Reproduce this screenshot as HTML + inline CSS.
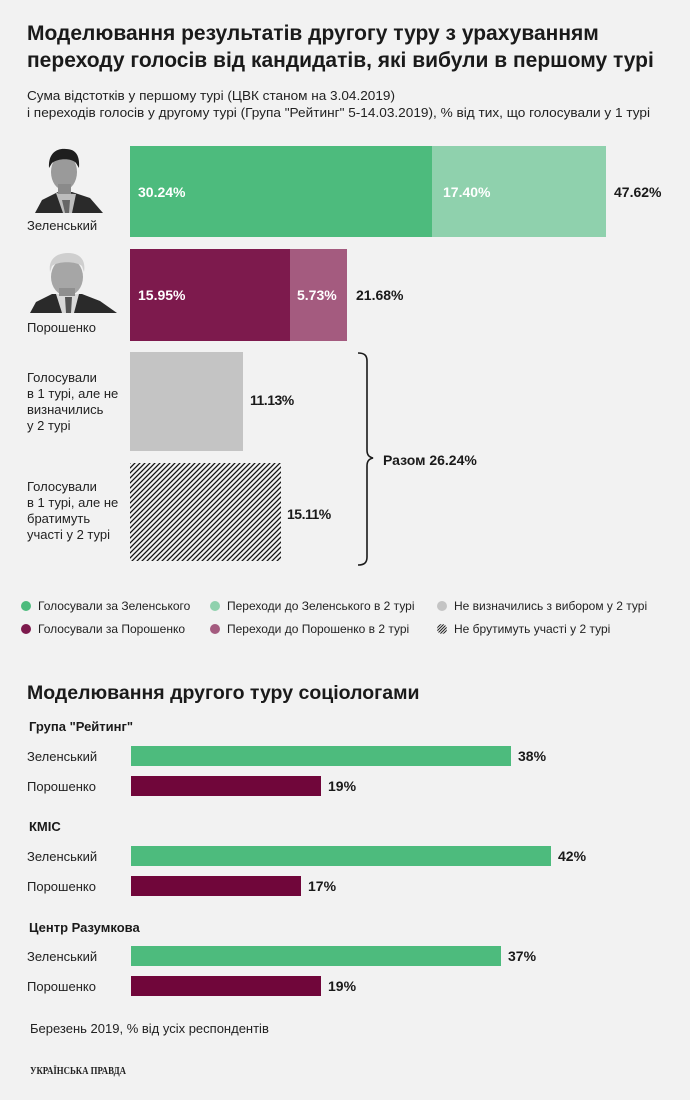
<!DOCTYPE html>
<html><head><meta charset="utf-8">
<style>
html,body{margin:0;padding:0;background:#f2f2f2;}
svg{display:block;}
text{font-family:"Liberation Sans","DejaVu Sans",sans-serif;}
</style></head>
<body>
<svg width="690" height="1100" viewBox="0 0 690 1100" xmlns="http://www.w3.org/2000/svg">
<defs>
<pattern id="hatch" patternUnits="userSpaceOnUse" width="5" height="5" patternTransform="translate(130,463)">
<rect width="5" height="5" fill="#f2f2f2"/>
<path d="M-1,1 l2,-2 M0,5 l5,-5 M4,6 l2,-2" stroke="#111" stroke-width="1.3"/>
</pattern>
<pattern id="hatchS" patternUnits="userSpaceOnUse" width="3" height="3">
<rect width="3" height="3" fill="#f2f2f2"/>
<path d="M-1,1 l2,-2 M0,3 l3,-3 M2,4 l2,-2" stroke="#222" stroke-width="1"/>
</pattern>
</defs>
<rect width="690" height="1100" fill="#f2f2f2"/>

<!-- Title -->
<text x="27" y="40" font-size="21" font-weight="bold" fill="#1a1a1a">Моделювання результатів другогу туру з урахуванням</text>
<text x="27" y="67" font-size="21" font-weight="bold" fill="#1a1a1a">переходу голосів від кандидатів, які вибули в першому турі</text>
<text x="27" y="100" font-size="12.5" fill="#222" textLength="368" lengthAdjust="spacingAndGlyphs">Сума відстотків у першому турі (ЦВК станом на 3.04.2019)</text>
<text x="27" y="117" font-size="12.5" fill="#222" textLength="623" lengthAdjust="spacingAndGlyphs">і переходів голосів у другому турі (Група "Рейтинг" 5-14.03.2019), % від тих, що голосували у 1 турі</text>

<!-- Zelensky photo -->
<g>
<path d="M35,213 L42,200 L58,192 L72,192 L90,198 L103,213 Z" fill="#2a2a2a"/>
<path d="M56,193 L63,213 L72,213 L76,194 Z" fill="#bdbdbd"/>
<path d="M62,200 L65,213 L69,213 L70,200 Z" fill="#666"/>
<ellipse cx="64" cy="172" rx="13" ry="18" fill="#9a9a9a"/>
<path d="M49,168 C48,152 58,148 66,149 C76,149 80,156 79,168 L76,163 C72,158 58,158 52,163 Z" fill="#1e1e1e"/>
<rect x="58" y="184" width="13" height="10" fill="#8a8a8a"/>
</g>
<text x="27" y="230" font-size="13" fill="#222">Зеленський</text>

<!-- Poroshenko photo -->
<g>
<path d="M30,313 L36,302 L52,294 L82,294 L100,301 L117,313 Z" fill="#2a2a2a"/>
<path d="M56,294 L62,313 L74,313 L79,294 Z" fill="#d9d9d9"/>
<path d="M65,297 L66,313 L71,313 L72,297 Z" fill="#555"/>
<ellipse cx="67" cy="277" rx="16" ry="19" fill="#a6a6a6"/>
<path d="M50,272 C48,258 58,253 68,253 C80,253 86,260 84,272 L82,266 C76,261 58,261 52,266 Z" fill="#cfcfcf"/>
<rect x="59" y="288" width="16" height="8" fill="#8f8f8f"/>
</g>
<text x="27" y="332" font-size="13" fill="#222">Порошенко</text>

<!-- Section 1 bars -->
<rect x="130" y="146" width="302" height="91" fill="#4dbb7d"/>
<rect x="432" y="146" width="174" height="91" fill="#8fd1ad"/>
<text x="138" y="197" font-size="14" font-weight="bold" fill="#fff">30.24%</text>
<text x="443" y="197" font-size="14" font-weight="bold" fill="#fff">17.40%</text>
<text x="614" y="197" font-size="14" font-weight="bold" fill="#1a1a1a">47.62%</text>

<rect x="130" y="249" width="160" height="92" fill="#7d1a4d"/>
<rect x="290" y="249" width="57" height="92" fill="#a45b7f"/>
<text x="138" y="300" font-size="14" font-weight="bold" fill="#fff">15.95%</text>
<text x="297" y="300" font-size="14" font-weight="bold" fill="#fff">5.73%</text>
<text x="356" y="300" font-size="14" font-weight="bold" fill="#1a1a1a">21.68%</text>

<rect x="130" y="352" width="113" height="99" fill="#c4c4c4"/>
<text x="250" y="405" font-size="14" font-weight="bold" fill="#1a1a1a" letter-spacing="-0.5">11.13%</text>
<text x="27" y="382" font-size="13" fill="#222">Голосували</text>
<text x="27" y="398" font-size="13" fill="#222">в 1 турі, але не</text>
<text x="27" y="414" font-size="13" fill="#222">визначились</text>
<text x="27" y="430" font-size="13" fill="#222">у 2 турі</text>

<rect x="130" y="463" width="151" height="98" fill="url(#hatch)"/>
<text x="287" y="519" font-size="14" font-weight="bold" fill="#1a1a1a" letter-spacing="-0.5">15.11%</text>
<text x="27" y="491" font-size="13" fill="#222">Голосували</text>
<text x="27" y="507" font-size="13" fill="#222">в 1 турі, але не</text>
<text x="27" y="523" font-size="13" fill="#222">братимуть</text>
<text x="27" y="539" font-size="13" fill="#222">участі у 2 турі</text>

<!-- Bracket -->
<path d="M358,353 C364,353 367,355 367,361 L367,450 C367,455 369,457 373,458 C369,459 367,461 367,466 L367,557 C367,563 364,565 358,565" fill="none" stroke="#1a1a1a" stroke-width="1.6"/>
<text x="383" y="465" font-size="14" font-weight="bold" fill="#1a1a1a">Разом 26.24%</text>

<!-- Legend -->
<g font-size="12" fill="#222">
<circle cx="26" cy="606" r="5" fill="#4dbb7d"/>
<text x="38" y="610">Голосували за Зеленського</text>
<circle cx="26" cy="629" r="5" fill="#7d1a4d"/>
<text x="38" y="633">Голосували за  Порошенко</text>
<circle cx="215" cy="606" r="5" fill="#8fd1ad"/>
<text x="227" y="610">Переходи до Зеленського в 2 турі</text>
<circle cx="215" cy="629" r="5" fill="#a45b7f"/>
<text x="227" y="633">Переходи до Порошенко в 2 турі</text>
<circle cx="442" cy="606" r="5" fill="#c4c4c4"/>
<text x="454" y="610">Не визначились з вибором у 2 турі</text>
<circle cx="442" cy="629" r="5" fill="url(#hatchS)"/>
<text x="454" y="633">Не брутимуть участі у 2 турі</text>
</g>

<!-- Section 2 -->
<text x="27" y="699" font-size="19.5" font-weight="bold" fill="#1a1a1a">Моделювання другого туру соціологами</text>

<text x="29" y="731" font-size="13" font-weight="bold" fill="#1a1a1a">Група "Рейтинг"</text>
<text x="27" y="761" font-size="13" fill="#222">Зеленський</text>
<rect x="131" y="746" width="380" height="20" fill="#4dbb7d"/>
<text x="518" y="761" font-size="14" font-weight="bold" fill="#1a1a1a">38%</text>
<text x="27" y="791" font-size="13" fill="#222">Порошенко</text>
<rect x="131" y="776" width="190" height="20" fill="#70063a"/>
<text x="328" y="791" font-size="14" font-weight="bold" fill="#1a1a1a">19%</text>

<text x="29" y="831" font-size="13" font-weight="bold" fill="#1a1a1a">КМІС</text>
<text x="27" y="861" font-size="13" fill="#222">Зеленський</text>
<rect x="131" y="846" width="420" height="20" fill="#4dbb7d"/>
<text x="558" y="861" font-size="14" font-weight="bold" fill="#1a1a1a">42%</text>
<text x="27" y="891" font-size="13" fill="#222">Порошенко</text>
<rect x="131" y="876" width="170" height="20" fill="#70063a"/>
<text x="308" y="891" font-size="14" font-weight="bold" fill="#1a1a1a">17%</text>

<text x="29" y="932" font-size="13" font-weight="bold" fill="#1a1a1a">Центр Разумкова</text>
<text x="27" y="961" font-size="13" fill="#222">Зеленський</text>
<rect x="131" y="946" width="370" height="20" fill="#4dbb7d"/>
<text x="508" y="961" font-size="14" font-weight="bold" fill="#1a1a1a">37%</text>
<text x="27" y="991" font-size="13" fill="#222">Порошенко</text>
<rect x="131" y="976" width="190" height="20" fill="#70063a"/>
<text x="328" y="991" font-size="14" font-weight="bold" fill="#1a1a1a">19%</text>

<text x="30" y="1033" font-size="13" fill="#222">Березень 2019, % від усіх респондентів</text>
<text x="30" y="1074" font-size="11" font-weight="bold" fill="#222" style="font-family:'Liberation Serif',serif" textLength="96" lengthAdjust="spacingAndGlyphs">УКРАЇНСЬКА ПРАВДА</text>
</svg>
</body></html>
